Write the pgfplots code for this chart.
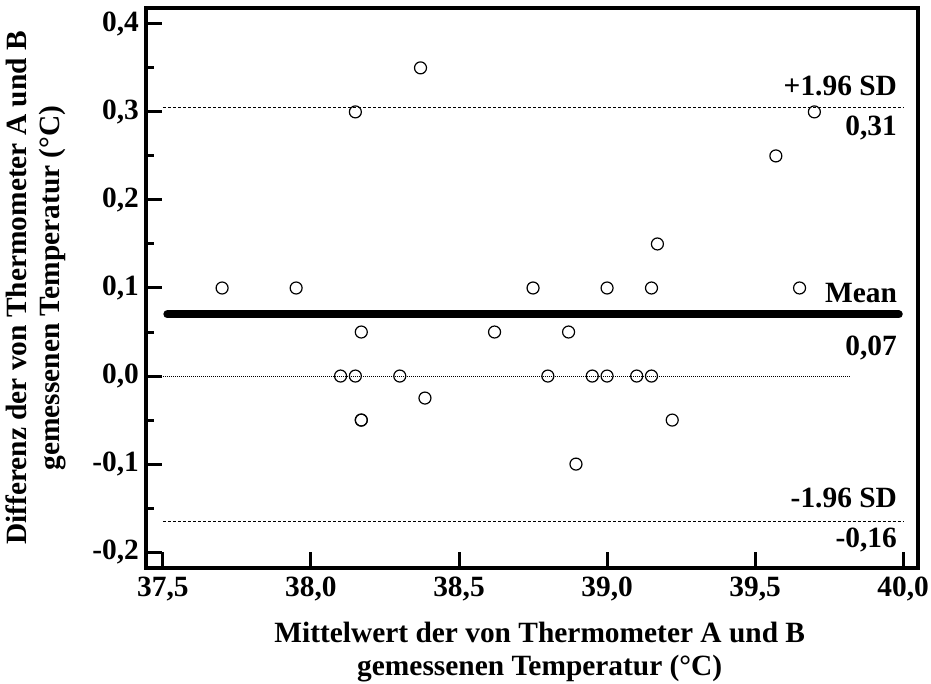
\documentclass[border=0pt]{standalone}
\usepackage{pgfplots}
\pgfplotsset{compat=1.18}
\usepackage{fontspec}
\setmainfont{Liberation Serif}
\newcommand{\lf}{\bfseries\fontsize{14.7}{16.5}\selectfont}
\begin{document}
\begin{tikzpicture}
\begin{axis}[name=ax,
  scale only axis, width=386pt, height=280pt,
  xmin=37.443, xmax=40.05, ymin=-0.218, ymax=0.418,
  axis line style={line width=1.6pt},
  xtick={37.5,38,38.5,39,39.5,40},
  xticklabels={{37,5},{38,0},{38,5},{39,0},{39,5},{40,0}},
  ytick={-0.2,-0.1,0,0.1,0.2,0.3,0.4},
  yticklabels={{-0,2},{-0,1},{0,0},{0,1},{0,2},{0,3},{0,4}},
  minor ytick={-0.15,-0.05,0.05,0.15,0.25,0.35},
  tick align=inside, xtick pos=bottom, ytick pos=left,
  major tick length=8pt, minor tick length=4pt,
  tick style={line width=1.5pt, black},
  ticklabel style={font=\lf},
  xticklabel style={yshift=-1pt},
  yticklabel style={xshift=0pt},
  xlabel={Mittelwert der von Thermometer A und B\\gemessenen Temperatur (°C)},
  ylabel={Differenz der von Thermometer A und B\\gemessenen Temperatur (°C)},
  xlabel style={font=\lf, align=center, at={(axis description cs:0.51,-0.15)}, anchor=center},
  ylabel style={font=\lf, align=center, at={(axis description cs:-0.142,0.5)}, anchor=center},
  clip=false,
]
% reference lines
\addplot[black, line width=4pt, line cap=round] coordinates {(37.515,0.07) (39.985,0.07)};
\addplot[black, line width=0.5pt, dash pattern=on 1.5pt off 1pt] coordinates {(37.5,0.305) (40.0,0.305)};
\addplot[black, line width=0.5pt, dash pattern=on 1.5pt off 1pt] coordinates {(37.5,-0.165) (40.0,-0.165)};
\addplot[black, line width=0.45pt, dash pattern=on 0.5pt off 0.5pt] coordinates {(37.5,0) (39.82,0)};
% data
\addplot[only marks, mark=o, mark size=3pt, mark options={line width=0.6pt, black, fill=white}] coordinates {
(38.37,0.35) (38.15,0.30) (37.70,0.10) (37.95,0.10) (38.17,0.05)
(38.10,0.00) (38.15,0.00) (38.30,0.00) (38.385,-0.025) (38.17,-0.05) (38.17,-0.05)
(39.17,0.15) (38.75,0.10) (39.00,0.10) (39.15,0.10) (38.62,0.05) (38.87,0.05)
(38.80,0.00) (38.95,0.00) (39.00,0.00) (39.10,0.00) (39.15,0.00)
(39.22,-0.05) (38.895,-0.10)
(39.70,0.30) (39.57,0.25) (39.65,0.10)
};
% labels
\tikzset{lbl/.style={font=\lf, anchor=base east, inner sep=0pt}}
\node[lbl] at ([yshift=6pt]axis cs:39.98,0.305) {+1.96 SD};
\node[lbl] at ([yshift=-14pt]axis cs:39.98,0.305) {0,31};
\node[lbl] at ([yshift=6pt]axis cs:39.98,0.07) {Mean};
\node[lbl] at ([yshift=-20.5pt]axis cs:39.98,0.07) {0,07};
\node[lbl] at ([yshift=7pt]axis cs:39.98,-0.165) {-1.96 SD};
\node[lbl] at ([yshift=-13pt]axis cs:39.98,-0.165) {-0,16};
\end{axis}
\pgfresetboundingbox
\path ([shift={(-73pt,-58pt)}]ax.south west) rectangle ([shift={(6.5pt,4pt)}]ax.north east);
\end{tikzpicture}
\end{document}
